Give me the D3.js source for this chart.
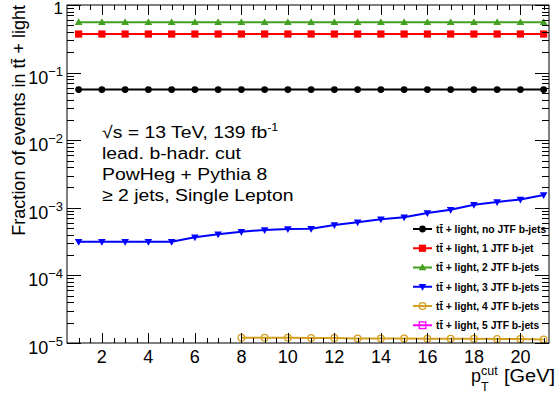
<!DOCTYPE html>
<html><head><meta charset="utf-8">
<script src="https://cdn.jsdelivr.net/npm/d3@7"></script>
<style>body{margin:0;background:#fff;} text{font-family:"Liberation Sans",Arial,sans-serif;}</style>
</head><body><svg id="c" width="556" height="396"></svg>
<script>
const xs = [1,2,3,4,5,6,7,8,9,10,11,12,13,14,15,16,17,18,19,20,21];
const noJTF = [0.056,0.056,0.056,0.056,0.056,0.056,0.056,0.056,0.056,0.056,0.056,0.056,0.056,0.056,0.056,0.056,0.056,0.056,0.056,0.056,0.056];
const oneJTF = [0.372,0.372,0.372,0.372,0.372,0.372,0.372,0.372,0.372,0.372,0.372,0.372,0.372,0.372,0.372,0.372,0.372,0.372,0.372,0.372,0.372];
const twoJTF = [0.556,0.556,0.556,0.556,0.556,0.556,0.556,0.556,0.556,0.556,0.556,0.556,0.556,0.556,0.556,0.556,0.556,0.556,0.556,0.556,0.556];
const threeJTF = [3.15e-4,3.15e-4,3.15e-4,3.15e-4,3.15e-4,3.66e-4,4.05e-4,4.43e-4,4.70e-4,4.86e-4,4.91e-4,5.57e-4,6.10e-4,6.76e-4,7.23e-4,8.37e-4,9.37e-4,1.11e-3,1.22e-3,1.33e-3,1.55e-3];
const fourX = [8,9,10,11,12,13,14,15,16,17,18,19,20,21];
const fourJTF = [1.20e-5,1.20e-5,1.20e-5,1.19e-5,1.19e-5,1.17e-5,1.17e-5,1.17e-5,1.16e-5,1.16e-5,1.16e-5,1.15e-5,1.15e-5,1.13e-5];
const fiveJTF = [];
const legendLabels = ["light, no JTF b-jets","light, 1 JTF b-jet","light, 2 JTF b-jets","light, 3 JTF b-jets","light, 4 JTF b-jets","light, 5 JTF b-jets"];
const xTicks = [2,4,6,8,10,12,14,16,18,20];
const yTickExps = [0,-1,-2,-3,-4,-5];
const textLines = ["lead. b-hadr. cut","PowHeg + Pythia 8","\u2265 2 jets, Single Lepton"];

const svg = d3.select("#c");
const L=67,R=549,T=5,B=343;
const x = d3.scaleLinear().domain([0.5,21.23]).range([L,R]);
const y = d3.scaleLog().domain([1e-5,1]).range([B,T]);

const series = [
  {xv:xs, yv:noJTF, color:"#000000", marker:"circle"},
  {xv:xs, yv:oneJTF, color:"#ff0000", marker:"square"},
  {xv:xs, yv:twoJTF, color:"#43a020", marker:"tri"},
  {xv:xs, yv:threeJTF, color:"#0000ff", marker:"tridown"},
  {xv:fourX, yv:fourJTF, color:"#d4a020", marker:"ocircle"},
  {xv:[], yv:fiveJTF, color:"#ff00ff", marker:"osquare"}
];

function drawMarker(g, type, cx, cy, color){
  if(type==="circle") g.append("circle").attr("cx",cx).attr("cy",cy).attr("r",3.4).attr("fill",color);
  else if(type==="square") g.append("rect").attr("x",cx-3.6).attr("y",cy-3.6).attr("width",7.2).attr("height",7.2).attr("fill",color);
  else if(type==="tri") g.append("path").attr("d",`M${cx},${cy-4}L${cx+3.8},${cy+2.8}L${cx-3.8},${cy+2.8}Z`).attr("fill",color);
  else if(type==="tridown") g.append("path").attr("d",`M${cx},${cy+4}L${cx+3.8},${cy-2.8}L${cx-3.8},${cy-2.8}Z`).attr("fill",color);
  else if(type==="ocircle") g.append("circle").attr("cx",cx).attr("cy",cy).attr("r",3.3).attr("fill","none").attr("stroke",color).attr("stroke-width",1.3);
  else if(type==="osquare") g.append("rect").attr("x",cx-3.3).attr("y",cy-3.3).attr("width",6.6).attr("height",6.6).attr("fill","none").attr("stroke",color).attr("stroke-width",1.3);
}

const gS = svg.append("g");
series.forEach(s=>{
  const pts = s.xv.map((v,i)=>[x(v), y(s.yv[i])]);
  if(pts.length){
    gS.append("path").attr("d",d3.line()(pts)).attr("fill","none").attr("stroke",s.color).attr("stroke-width",2);
    pts.forEach(p=>drawMarker(gS,s.marker,p[0],p[1],s.color));
  }
});

svg.append("rect").attr("x",L).attr("y",T).attr("width",R-L).attr("height",B-T).attr("fill","none").attr("stroke","#000").attr("stroke-width",1);

const gx = svg.append("g").attr("stroke","#000").attr("stroke-width",1);
for(let v=1; v<=21.01; v+=0.5){
  const major = xTicks.includes(v);
  const len = major?10:5;
  const px = Math.round(x(v))+0.5;
  gx.append("line").attr("x1",px).attr("x2",px).attr("y1",B).attr("y2",B-len);
  gx.append("line").attr("x1",px).attr("x2",px).attr("y1",T).attr("y2",T+len);
}
xTicks.forEach(v=>{
  svg.append("text").attr("x",x(v)).attr("y",362.5).attr("text-anchor","middle").attr("font-size",18).text(v);
});

const gy = svg.append("g").attr("stroke","#000").attr("stroke-width",1);
for(let e=-5;e<=0;e++){
  for(let m=1;m<=9;m++){
    const v = m*Math.pow(10,e);
    if(e===0 && m>1) break;
    const py = Math.round(y(v))+0.5;
    const len = m===1?14:7;
    gy.append("line").attr("x1",L).attr("x2",L+len).attr("y1",py).attr("y2",py);
    gy.append("line").attr("x1",R).attr("x2",R-len).attr("y1",py).attr("y2",py);
  }
}
yTickExps.forEach(e=>{
  const py = y(Math.pow(10,e));
  if(e===0){
    svg.append("text").attr("x",63).attr("y",py+9).attr("text-anchor","end").attr("font-size",17).text("1");
  } else {
    const t = svg.append("text").attr("x",63).attr("y",py+11).attr("text-anchor","end").attr("font-size",18);
    t.append("tspan").text("10");
    t.append("tspan").attr("dy",-8).attr("font-size",13).text("\u2212"+(-e));
  }
});

// x title
svg.append("text").attr("x",471).attr("y",381.5).attr("font-size",18).text("p");
svg.append("text").attr("x",481).attr("y",374.5).attr("font-size",12.5).text("cut");
svg.append("text").attr("x",481).attr("y",391).attr("font-size",12.5).text("T");
svg.append("text").attr("x",555).attr("y",381.5).attr("text-anchor","end").attr("font-size",18)
  .attr("textLength",51).attr("lengthAdjust","spacingAndGlyphs").text("[GeV]");

svg.append("text").attr("transform","translate(25,5) rotate(-90)").attr("text-anchor","end").attr("font-size",18)
  .text("Fraction of events in tt\u0304 + light");

// annotation text
const tx = 102, ty0 = 138.3, dyL = 20.8;
const ann = svg.append("g").attr("transform",`translate(${tx},0) scale(1.14,1)`);
const t0 = ann.append("text").attr("x",0).attr("y",ty0).attr("font-size",17);
t0.append("tspan").text("\u221As = 13 TeV, 139 fb");
t0.append("tspan").attr("dy",-7).attr("font-size",11).text("-1");
textLines.forEach((s,i)=>{
  ann.append("text").attr("x",0).attr("y",ty0+dyL*(i+1)).attr("font-size",17).text(s);
});

// legend
const lg = svg.append("g");
legendLabels.forEach((lab,i)=>{
  const cy = 229 + 19.25*i;
  const s = series[i];
  lg.append("line").attr("x1",413).attr("x2",432).attr("y1",cy).attr("y2",cy).attr("stroke",s.color).attr("stroke-width",2);
  drawMarker(lg,s.marker,422.5,cy,s.color);
  lg.append("text").attr("x",436).attr("y",cy+3.8).attr("font-size",10.3).attr("font-weight","bold").text("tt\u0304 + "+lab);
});
</script></body></html>
